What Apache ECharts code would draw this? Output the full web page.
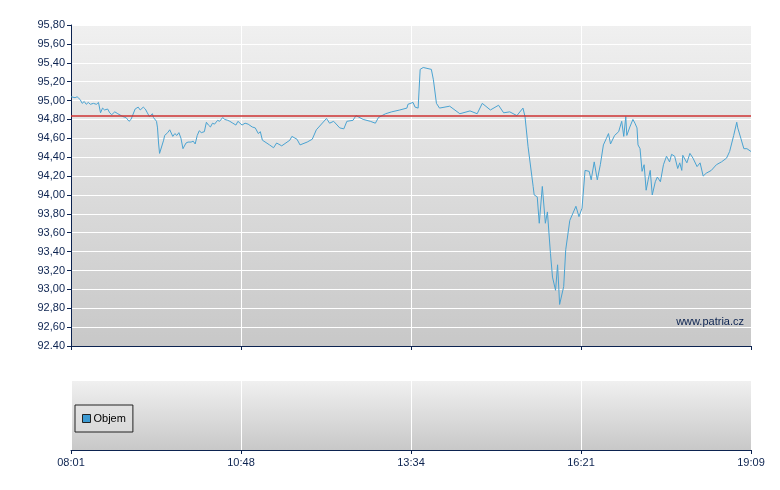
<!DOCTYPE html>
<html>
<head>
<meta charset="utf-8">
<script src="https://cdn.jsdelivr.net/npm/echarts@6/dist/echarts.min.js"></script>
<style>html,body{margin:0;padding:0;background:#fff}#c{width:780px;height:490px}</style>
</head>
<body>
<div id="c"></div>
<script>
// minutes after 08:01
const minutes = [0,1,4,6,9,11,13,15,17,19,22,25,27,29,31,33,36,38,40,43,46,51,54,57,59,63,66,68,71,73,75,76,77,80,81,84,85,86,87,91,92,95,97,100,102,104,106,108,110,113,115,118,120,122,124,126,128,131,133,135,137,139,141,144,146,149,151,154,156,159,162,164,168,171,174,178,181,184,186,188,195,199,202,207,215,217,222,225,232,237,241,251,254,258,264,268,271,277,280,287,294,299,302,309,315,323,330,331,336,338,341,343,346,354,356,359,362,372,382,392,399,404,412,420,425,431,438,444,446,449,454,455,458,460,463,466,468,471,473,476,478,480,484,486,490,496,499,502,505,509,511,514,517,520,523,526,528,530,534,538,539,541,543,545,546,549,552,554,556,557,559,561,563,565,567,569,571,574,576,579,582,585,588,590,593,596,598,600,601,605,608,611,615,618,621,624,629,634,639,644,647,651,654,655,658,661,664,668];
const prices = [95.04,95.06,95.03,95.04,95.01,94.97,94.99,94.96,94.98,94.96,94.97,94.96,94.98,94.87,94.92,94.90,94.91,94.87,94.85,94.88,94.86,94.83,94.82,94.78,94.80,94.91,94.93,94.90,94.93,94.91,94.87,94.87,94.83,94.86,94.82,94.78,94.71,94.55,94.44,94.58,94.63,94.66,94.69,94.62,94.65,94.63,94.66,94.60,94.49,94.55,94.56,94.56,94.57,94.54,94.63,94.68,94.66,94.67,94.77,94.74,94.72,94.76,94.75,94.79,94.78,94.82,94.80,94.79,94.78,94.76,94.74,94.78,94.74,94.76,94.75,94.72,94.71,94.65,94.67,94.58,94.53,94.50,94.55,94.52,94.58,94.62,94.59,94.53,94.56,94.59,94.69,94.81,94.76,94.78,94.71,94.70,94.78,94.79,94.84,94.80,94.78,94.76,94.82,94.86,94.88,94.90,94.92,94.96,94.98,94.93,94.92,95.33,95.35,95.33,95.22,94.97,94.92,94.94,94.86,94.89,94.86,94.97,94.90,94.95,94.87,94.88,94.84,94.92,94.83,94.51,94.09,94.00,93.98,93.70,94.09,93.70,93.82,93.38,93.13,92.99,93.26,92.84,93.03,93.42,93.73,93.88,93.77,93.86,94.26,94.25,94.16,94.35,94.16,94.32,94.53,94.60,94.65,94.54,94.63,94.67,94.65,94.78,94.62,94.83,94.63,94.72,94.80,94.76,94.71,94.53,94.49,94.25,94.32,94.05,94.16,94.26,94.00,94.14,94.19,94.14,94.32,94.41,94.35,94.43,94.41,94.28,94.34,94.26,94.42,94.34,94.44,94.39,94.30,94.34,94.20,94.23,94.26,94.32,94.35,94.39,94.46,94.63,94.77,94.71,94.60,94.49,94.49,94.46];
const referenceLevel = 94.84;
const xTickLabels = ["08:01","10:48","13:34","16:21","19:09"];
const yTickLabels = ["92.40","92,60","92,80","93,00","93,20","93,40","93,60","93,80","94,00","94,20","94,40","94,60","94,80","95,00","95,20","95,40","95,60","95,80"];
const legendName = "Objem";
const watermark = "www.patria.cz";

const navy = '#0c2350';
const font = 'Arial, "Liberation Sans", sans-serif';
const bg = {type:'linear',x:0,y:0,x2:0,y2:1,colorStops:[{offset:0,color:'#f0f0f0'},{offset:1,color:'#c8c8c8'}]};

const chart = echarts.init(document.getElementById('c'), null, {renderer:'canvas'});
chart.setOption({
  animation:false,
  backgroundColor:'#ffffff',
  title:{text:watermark,right:36,top:316,textStyle:{color:navy,fontSize:11,fontWeight:'normal',fontFamily:font},padding:0},
  legend:{
    data:[legendName],left:75,top:405,orient:'vertical',
    padding:[8,7,8,7],borderColor:'#222',borderWidth:1,borderRadius:0,backgroundColor:'rgba(225,225,225,0.5)',
    itemWidth:8,itemHeight:8,itemGap:0,icon:'rect',
    textStyle:{fontSize:11,color:'#000',fontFamily:font,padding:[0,0,0,-2]},
    itemStyle:{color:'#3c9ad2',borderColor:'#222',borderWidth:1},
    selectedMode:false
  },
  grid:[
    {left:71,top:25,width:680,height:321,show:true,backgroundColor:bg,borderWidth:0},
    {left:71,top:381,width:680,height:69,show:true,backgroundColor:bg,borderWidth:0}
  ],
  xAxis:[
    {type:'value',gridIndex:0,min:0,max:668,interval:167,
      axisLine:{show:true,onZero:false,lineStyle:{color:navy,width:1}},
      axisTick:{show:true,length:4,lineStyle:{color:navy}},
      axisLabel:{show:false},
      splitLine:{show:true,lineStyle:{color:'#ffffff',width:1}}},
    {type:'value',gridIndex:1,min:0,max:668,interval:167,
      axisLine:{show:true,onZero:false,lineStyle:{color:navy,width:1}},
      axisTick:{show:true,length:4,lineStyle:{color:navy}},
      axisLabel:{show:true,color:navy,fontSize:11,fontFamily:font,margin:7,
        formatter:v=>xTickLabels[Math.round(v/167)]},
      splitLine:{show:true,lineStyle:{color:'#ffffff',width:1}}}
  ],
  yAxis:[
    {type:'value',gridIndex:0,min:92.4,max:95.8,interval:0.2,
      axisLine:{show:true,onZero:false,lineStyle:{color:navy,width:1}},
      axisTick:{show:true,length:4,lineStyle:{color:navy}},
      axisLabel:{show:true,color:navy,fontSize:11,fontFamily:font,margin:6,
        formatter:v=>yTickLabels[Math.round((v-92.4)/0.2)]},
      splitLine:{show:true,lineStyle:{color:'#ffffff',width:1}}},
    {type:'value',gridIndex:1,min:0,max:1,show:false,splitLine:{show:false}}
  ],
  series:[
    {type:'line',xAxisIndex:0,yAxisIndex:0,data:minutes.map((m,i)=>[m,prices[i]]),
      showSymbol:false,symbol:'none',lineStyle:{color:'#4aa3d2',width:1},
      markLine:{silent:true,symbol:'none',label:{show:false},
        lineStyle:{color:'rgba(205,50,50,0.75)',width:2,type:'solid'},
        data:[{yAxis:referenceLevel}]}},
    {type:'bar',name:legendName,xAxisIndex:1,yAxisIndex:1,data:[],itemStyle:{color:'#3c9ad2'}}
  ]
});
</script>
</body>
</html>
